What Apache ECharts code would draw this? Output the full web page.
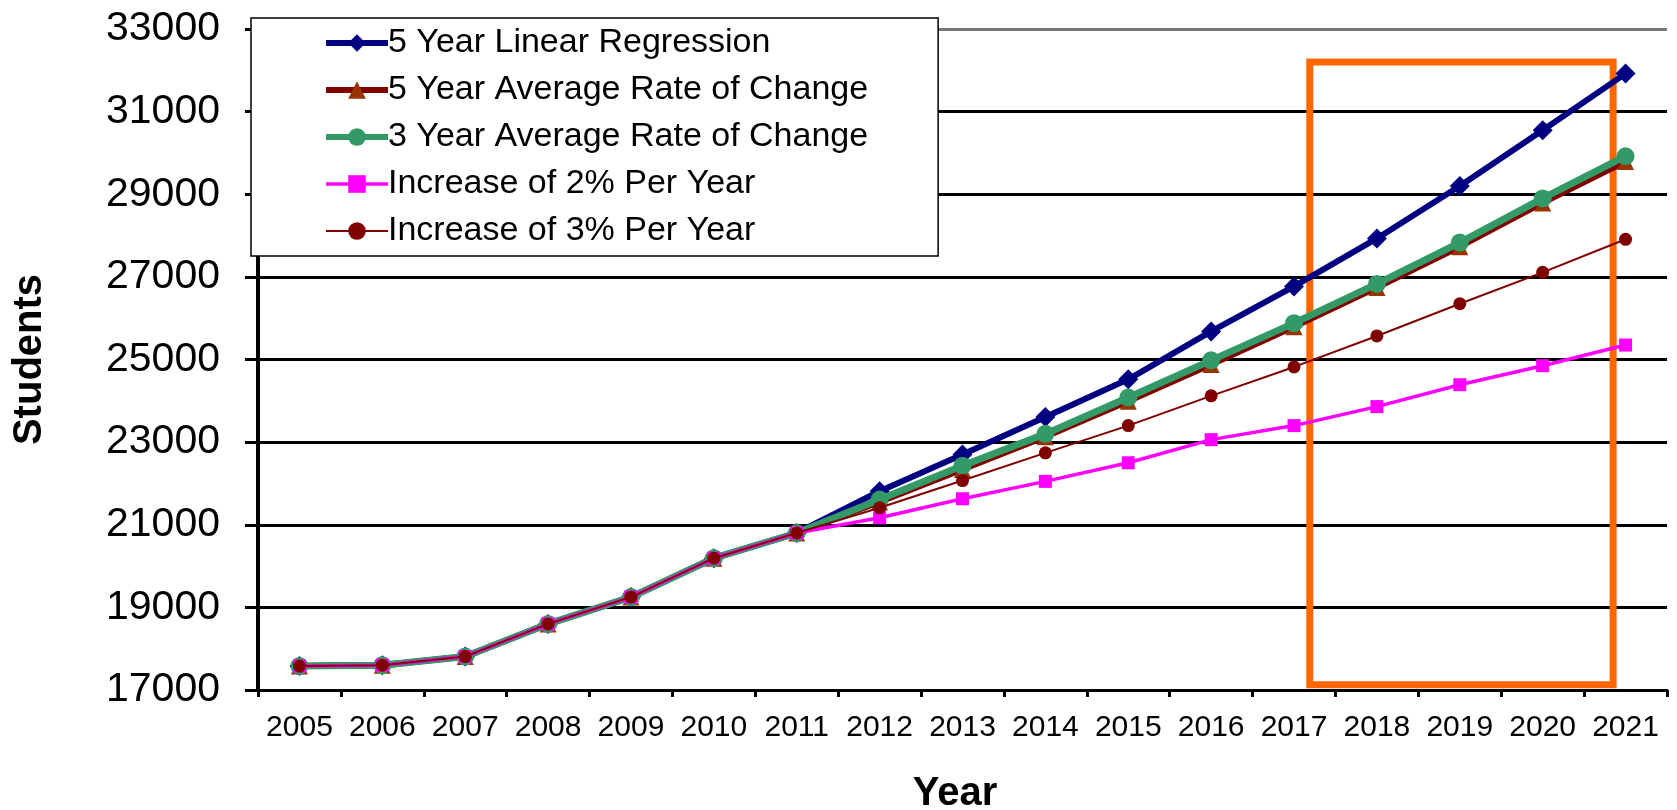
<!DOCTYPE html>
<html>
<head>
<meta charset="utf-8">
<script src="https://cdn.jsdelivr.net/npm/echarts@6/dist/echarts.min.js"></script>
<style>
html,body{margin:0;padding:0;background:#fff;}
#chart{width:1677px;height:810px;}
</style>
</head>
<body>
<div id="chart"></div>
<script>
var years = ['2005','2006','2007','2008','2009','2010','2011','2012','2013','2014','2015','2016','2017','2018','2019','2020','2021'];
var linearRegression5 = [17580,17600,17810,18600,19250,20190,20800,21810,22700,23610,24520,25680,26770,27930,29200,30550,31920];
var avgRate5 = [17580,17600,17810,18600,19250,20190,20800,21550,22340,23130,23990,24880,25790,26740,27730,28790,29790];
var avgRate3 = [17580,17600,17810,18600,19250,20190,20800,21610,22430,23200,24080,24980,25880,26830,27830,28900,29920];
var increase2 = [17580,17600,17810,18600,19250,20190,20800,21170,21630,22050,22500,23060,23400,23860,24390,24850,25350];
var increase3 = [17580,17600,17810,18600,19250,20190,20800,21410,22070,22740,23400,24120,24820,25570,26350,27110,27910];
var seriesNames = ['5 Year Linear Regression','5 Year Average Rate of Change','3 Year Average Rate of Change','Increase of 2% Per Year','Increase of 3% Per Year'];
// highlight box in category-index / value units: [xStart, yTop, xEnd, yBottom]
var highlightBox = [12.19, 32200, 15.85, 17130];

var FONT = '"Liberation Sans", Arial, sans-serif';
var styles = [
  {symbol: 'diamond', size: 20, line: '#000080', item: '#000080', width: 6},
  {symbol: 'triangle', size: 17, line: '#800000', item: '#993300', width: 6},
  {symbol: 'circle', size: 18, line: '#339966', item: '#339966', width: 7},
  {symbol: 'rect', size: 13, line: '#FF00FF', item: '#FF00FF', width: 3.5},
  {symbol: 'circle', size: 13, line: '#800000', item: '#800000', width: 2}
];
var dataSets = [linearRegression5, avgRate5, avgRate3, increase2, increase3];

var series = dataSets.map(function (d, i) {
  var s = styles[i];
  return {name: seriesNames[i], type: 'line', data: d, symbol: s.symbol, symbolSize: s.size,
    lineStyle: {color: s.line, width: s.width}, itemStyle: {color: s.item}, z: 3 + i};
});
series.push({name: 'highlight', type: 'line', xAxisIndex: 1, data: [], silent: true, z: 9,
  markArea: {
    silent: true,
    label: {show: false},
    itemStyle: {color: 'rgba(0,0,0,0)', borderColor: '#FF6600', borderWidth: 7},
    data: [[{coord: [highlightBox[0], highlightBox[1]]}, {coord: [highlightBox[2], highlightBox[3]]}]]
  }
});

var legendData = seriesNames.map(function (n, i) {
  var s = styles[i];
  return {name: n, itemStyle: {color: s.item}, lineStyle: {color: s.line, width: Math.min(s.width, 6)}};
});

var chart = echarts.init(document.getElementById('chart'), null, {renderer:'canvas'});
var option = {
  animation: false,
  backgroundColor: '#fff',
  grid: {left: 258, right: 10, top: 29, bottom: 120, containLabel: false, outerBoundsMode: 'none'},
  legend: {
    orient: 'vertical',
    left: 251, top: 18,
    padding: [8, 70, 8, 72],
    itemGap: 13,
    itemWidth: 62, itemHeight: 22,
    backgroundColor: '#fff',
    borderColor: '#000', borderWidth: 1.5,
    textStyle: {fontFamily: FONT, fontSize: 34, color: '#000', padding:[0,0,0,-5]},
    data: legendData
  },
  xAxis: [{
    type: 'category',
    data: years,
    boundaryGap: true,
    axisLine: {lineStyle: {color: '#000', width: 3}},
    axisTick: {show: true, length: 7, lineStyle: {color: '#000', width: 3}},
    axisLabel: {fontFamily: FONT, fontSize: 30, color: '#000', margin: 23, interval: 0},
    name: 'Year', nameLocation: 'middle', nameGap: 84,
    nameTextStyle: {fontFamily: FONT, fontSize: 40, fontWeight: 'bold', color: '#000', padding: [0, 15, 0, 0]}
  }, {
    type: 'value', min: -0.5, max: 16.5, show: false
  }],
  yAxis: {
    type: 'value', min: 17000, max: 33000, interval: 2000,
    axisLine: {show: true, onZero: false, lineStyle: {color: '#000', width: 4}},
    axisTick: {show: true, length: 13, lineStyle: {color: '#000', width: 3}},
    axisLabel: {fontFamily: FONT, fontSize: 41, color: '#000', margin: 38, formatter: function (v) { return String(v); }},
    splitLine: {show: true, lineStyle: {color: ['#000','#000','#000','#000','#000','#000','#000','#000','#777'], width: 3}},
    name: 'Students', nameLocation: 'middle', nameGap: 208,
    nameTextStyle: {fontFamily: FONT, fontSize: 40, fontWeight: 'bold', color: '#000'}
  },
  series: series
};
chart.setOption(option);
</script>
</body>
</html>
